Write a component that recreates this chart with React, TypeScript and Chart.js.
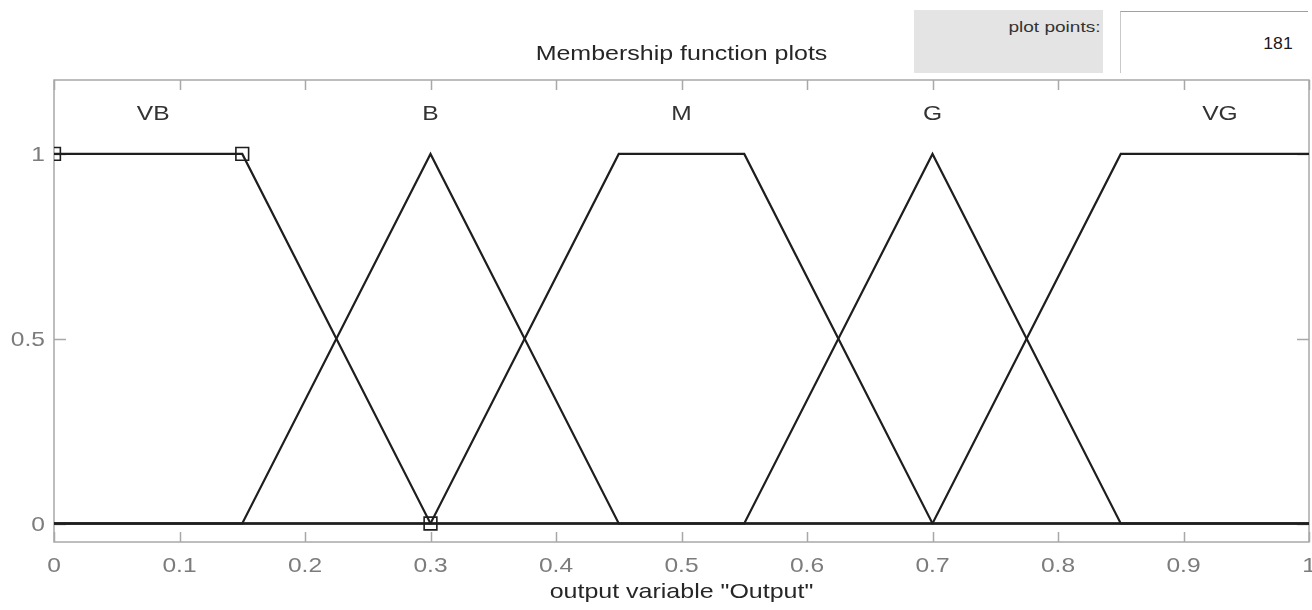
import React, { useEffect, useRef } from "react";
import { Chart, registerables } from "chart.js";

Chart.register(...registerables);

// ---- data ----
const xTickValues = [0, 0.1, 0.2, 0.3, 0.4, 0.5, 0.6, 0.7, 0.8, 0.9, 1];
const xTickLabels = ["0", "0.1", "0.2", "0.3", "0.4", "0.5", "0.6", "0.7", "0.8", "0.9", "1"];
const yTickValues = [0, 0.5, 1];
const yTickLabels = ["0", "0.5", "1"];

const mfNames = ["VB", "B", "M", "G", "VG"];
const mfLabelX = [0.079, 0.3, 0.5, 0.7, 0.929];
const mfLabelY = [1.108, 1.108, 1.108, 1.108, 1.108];

const vbX = [0, 0.15, 0.3, 1];
const vbY = [1, 1, 0, 0];
const bX = [0, 0.15, 0.3, 0.45, 1];
const bY = [0, 0, 1, 0, 0];
const mX = [0, 0.3, 0.45, 0.55, 0.7, 1];
const mY = [0, 0, 1, 1, 0, 0];
const gX = [0, 0.55, 0.7, 0.85, 1];
const gY = [0, 0, 1, 0, 0];
const vgX = [0, 0.7, 0.85, 1];
const vgY = [0, 0, 1, 1];

// selected MF (VB) shows square markers at its parameter points
const vbMarkers = [true, true, true, false];

const titleText = "Membership function plots";
const xTitleText = 'output variable "Output"';
const plotPointsLabel = "plot points:";
const plotPoints = "181";

const FONT = "'Liberation Sans', Arial, sans-serif";
const LINE = "#1e1e1e";
const AXIS = "#a8a8a8";
const TICKCOL = "#7c7c7c";
const SX = 1.17; // horizontal stretch of the text in the reference

function pts(xs: number[], ys: number[]) {
  return xs.map((x, i) => ({ x, y: ys[i] }));
}

function stretchedText(
  ctx: CanvasRenderingContext2D,
  text: string,
  x: number,
  y: number,
  align: CanvasTextAlign,
  size: number,
  color: string,
  sx: number
) {
  ctx.save();
  ctx.translate(x, y);
  ctx.scale(sx, 1);
  ctx.font = `${size}px ${FONT}`;
  ctx.fillStyle = color;
  ctx.textAlign = align;
  ctx.textBaseline = "alphabetic";
  ctx.fillText(text, 0, 0);
  ctx.restore();
}

const framePlugin = {
  id: "matlabFrame",
  beforeDatasetsDraw(chart: any) {
    const { ctx, chartArea, scales } = chart;
    const { left, right, top, bottom } = chartArea;
    ctx.save();
    ctx.strokeStyle = AXIS;
    ctx.lineWidth = 1.5;
    ctx.strokeRect(left, top, right - left, bottom - top);
    ctx.beginPath();
    xTickValues.forEach((v) => {
      const px = Math.round(scales.x.getPixelForValue(v)) + 0.5;
      ctx.moveTo(px, bottom);
      ctx.lineTo(px, bottom - 10);
      ctx.moveTo(px, top);
      ctx.lineTo(px, top + 10);
    });
    yTickValues.forEach((v) => {
      const py = Math.round(scales.y.getPixelForValue(v)) + 0.5;
      ctx.moveTo(left, py);
      ctx.lineTo(left + 12, py);
      ctx.moveTo(right, py);
      ctx.lineTo(right - 12, py);
    });
    ctx.stroke();
    ctx.restore();
  },
  afterDraw(chart: any) {
    const { ctx, chartArea, scales } = chart;
    const { left, right, bottom } = chartArea;
    // tick labels
    xTickValues.forEach((v, i) => {
      stretchedText(ctx, xTickLabels[i], scales.x.getPixelForValue(v), bottom + 30, "center", 21, TICKCOL, SX);
    });
    yTickValues.forEach((v, i) => {
      stretchedText(ctx, yTickLabels[i], left - 9, scales.y.getPixelForValue(v) + 7.5, "right", 21, TICKCOL, SX);
    });
    // membership function names
    mfNames.forEach((n, i) => {
      stretchedText(
        ctx,
        n,
        scales.x.getPixelForValue(mfLabelX[i]),
        scales.y.getPixelForValue(mfLabelY[i]) + 6,
        "center",
        21,
        "#333333",
        SX
      );
    });
    // titles
    const cx = (left + right) / 2;
    stretchedText(ctx, titleText, cx, 60, "center", 21, "#262626", 1.19);
    stretchedText(ctx, xTitleText, cx, bottom + 56, "center", 21, "#262626", 1.19);
  },
};

export default function App() {
  const ref = useRef<HTMLCanvasElement | null>(null);

  useEffect(() => {
    if (!ref.current) return;
    const common = {
      showLine: true,
      borderColor: LINE,
      backgroundColor: "rgba(0,0,0,0)",
      borderWidth: 2.2,
      pointRadius: 0,
      tension: 0,
    };
    const chart = new Chart(ref.current, {
      type: "scatter",
      data: {
        datasets: [
          { ...common, label: "B", data: pts(bX, bY) },
          { ...common, label: "M", data: pts(mX, mY) },
          { ...common, label: "G", data: pts(gX, gY) },
          { ...common, label: "VG", data: pts(vgX, vgY) },
          {
            ...common,
            label: "VB",
            data: pts(vbX, vbY),
            pointStyle: "rect",
            pointRadius: vbMarkers.map((m) => (m ? 9 : 0)),
            pointBorderColor: LINE,
            pointBackgroundColor: "rgba(0,0,0,0)",
            pointBorderWidth: 1.6,
          },
        ],
      },
      options: {
        animation: false,
        responsive: false,
        maintainAspectRatio: false,
        layout: { autoPadding: false, padding: { top: 80, right: 3, left: 0, bottom: 0 } },
        plugins: {
          legend: { display: false },
          tooltip: { enabled: false },
          title: { display: false },
        },
        scales: {
          x: {
            type: "linear",
            min: 0,
            max: 1,
            grid: { display: false, drawTicks: false },
            border: { display: false },
            afterBuildTicks: (s: any) => {
              s.ticks = xTickValues.map((v) => ({ value: v }));
            },
            afterFit: (s: any) => {
              s.height = 68;
              s.paddingLeft = 0;
              s.paddingRight = 0;
            },
            ticks: { display: false },
            title: { display: false },
          },
          y: {
            type: "linear",
            min: -0.05,
            max: 1.2,
            grid: { display: false, drawTicks: false },
            border: { display: false },
            afterBuildTicks: (s: any) => {
              s.ticks = yTickValues.map((v) => ({ value: v }));
            },
            afterFit: (s: any) => {
              s.width = 54;
              s.paddingTop = 0;
              s.paddingBottom = 0;
            },
            ticks: { display: false },
          },
        },
      },
      plugins: [framePlugin],
    } as any);
    return () => chart.destroy();
  }, []);

  return (
    <div
      style={{
        position: "absolute",
        left: 0,
        top: 0,
        width: 1312,
        height: 610,
        background: "#ffffff",
        overflow: "hidden",
      }}
    >
      <div
        style={{
          position: "absolute",
          left: 914,
          top: 10,
          width: 189,
          height: 63,
          background: "#e4e4e4",
        }}
      >
        <div
          style={{
            position: "absolute",
            right: 2,
            top: 8,
            fontFamily: FONT,
            fontSize: 15,
            lineHeight: "18px",
            color: "#333333",
            transform: "scaleX(1.27)",
            transformOrigin: "right center",
            whiteSpace: "nowrap",
          }}
        >
          {plotPointsLabel}
        </div>
      </div>
      <div
        style={{
          position: "absolute",
          left: 1120,
          top: 11,
          width: 188,
          height: 62,
          background: "#ffffff",
          borderTop: "1px solid #a0a0a0",
          borderLeft: "1px solid #c8c8c8",
          boxSizing: "border-box",
        }}
      >
        <div
          style={{
            position: "absolute",
            right: 15,
            top: 22,
            fontFamily: FONT,
            fontSize: 16,
            lineHeight: "20px",
            color: "#1a1a1a",
            transform: "scaleX(1.1)",
            transformOrigin: "right center",
          }}
        >
          {plotPoints}
        </div>
      </div>
      <canvas
        ref={ref}
        width={1312}
        height={610}
        style={{ position: "absolute", left: 0, top: 0, width: 1312, height: 610 }}
      />
    </div>
  );
}
